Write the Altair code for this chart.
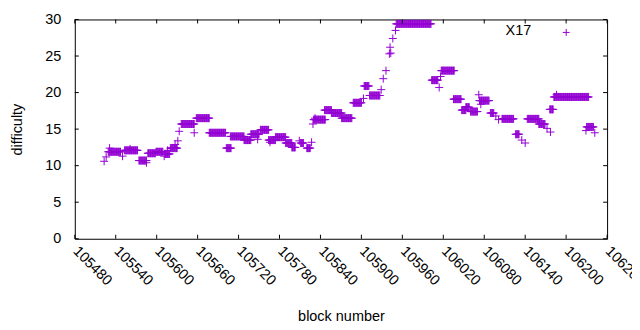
import altair as alt
import pandas as pd

# runs of (first block, last block, difficulty)
run_start = [105523, 105526, 105529, 105531, 105550, 105553, 105561, 105574, 105585, 105587, 105599,
             105611, 105612, 105616, 105620, 105627, 105631, 105633, 105636, 105655, 105658,
             105677, 105702, 105708, 105728, 105738, 105748, 105752, 105764, 105766, 105774,
             105789, 105798, 105809, 105811, 105820, 105827, 105829, 105830, 105832, 105846,
             105856, 105871, 105888, 105903, 105904, 105912, 105929, 105932, 105936, 105941,
             105942, 105943, 105946, 105950, 105951, 106003, 106014, 106016, 106017, 106035,
             106047, 106053, 106060, 106072, 106073, 106075, 106089, 106097, 106101, 106106,
             106126, 106135, 106140, 106143, 106160, 106172, 106177, 106176, 106186, 106182,
             106229, 106230, 106242]
run_end = [105523, 105526, 105547, 105531, 105550, 105572, 105561, 105585, 105585, 105598, 105609,
           105611, 105619, 105616, 105630, 105627, 105631, 105633, 105655, 105655, 105677,
           105701, 105709, 105728, 105738, 105750, 105748, 105764, 105774, 105766, 105789,
           105798, 105803, 105809, 105815, 105825, 105827, 105829, 105847, 105832, 105856,
           105871, 105886, 105900, 105903, 105911, 105927, 105929, 105932, 105936, 105941,
           105942, 105943, 105946, 105950, 106002, 106012, 106014, 106016, 106036, 106046,
           106053, 106058, 106070, 106072, 106087, 106075, 106094, 106097, 106101, 106123,
           106131, 106135, 106140, 106160, 106169, 106172, 106177, 106181, 106186, 106233,
           106229, 106240, 106242]
run_diff = [10.6, 11.2, 11.9, 12.4, 11.3, 12.1, 12.3, 10.7, 10.4, 11.7, 11.9,
            11.3, 11.6, 12.1, 12.4, 12.9, 13.4, 14.7, 15.7, 14.5, 16.5,
            14.5, 12.4, 14.0, 13.5, 14.3, 13.6, 14.9, 13.5, 13.2, 13.9,
            13.1, 12.5, 13.4, 13.1, 12.4, 13.2, 15.7, 16.3, 16.5, 17.6,
            17.2, 16.5, 18.6, 19.2, 20.9, 19.6, 20.4, 21.9, 23.0, 25.3,
            26.2, 25.4, 27.4, 28.5, 29.4, 21.7, 20.7, 22.2, 23.0, 19.1,
            17.6, 18.0, 17.4, 19.7, 18.9, 18.4, 17.2, 16.8, 16.3, 16.4,
            14.3, 13.5, 13.1, 16.4, 15.7, 15.1, 14.6, 17.7, 19.7, 19.4,
            14.8, 15.3, 14.5]

x_ticks = list(range(105480, 106261, 60))
y_ticks = [0, 5, 10, 15, 20, 25, 30]
series_name = "X17"

blocks, diffs = [], []
for s, e, d in zip(run_start, run_end, run_diff):
    for b in range(s, e + 1):
        blocks.append(b)
        diffs.append(d)
df = pd.DataFrame({"block": blocks, "difficulty": diffs})
xt = pd.DataFrame({"block": x_ticks})
yt = pd.DataFrame({"difficulty": y_ticks})
leg = pd.DataFrame({"name": [series_name]})

W, H = 534, 220
PURPLE = "#9400D3"
FONT = "Liberation Sans"
PLUS = "M-1,0L1,0M0,-1L0,1"
TK = 4
FS = 14.5

xscale = alt.Scale(domain=[105480, 106260], nice=False, zero=False)
yscale = alt.Scale(domain=[0, 30], nice=False)

xaxis = alt.Axis(
    values=x_ticks, tickCount=len(x_ticks), title="block number", ticks=False, domain=False,
    grid=False, labelAngle=45, labelAlign="left", labelBaseline="middle", labelPadding=10,
    labelFont=FONT, labelFontSize=FS, labelColor="black", labelFlush=False,
    labelOverlap=False, format="d",
    titleFont=FONT, titleFontSize=FS, titleFontWeight="normal", titleColor="black",
    titlePadding=22)
yaxis = alt.Axis(
    values=y_ticks, tickCount=len(y_ticks), title="difficulty", ticks=False, domain=False,
    grid=False, labelPadding=14, labelFont=FONT, labelFontSize=FS, labelColor="black",
    labelOverlap=False, labelFlush=False, format="d",
    titleFont=FONT, titleFontSize=FS, titleFontWeight="normal", titleColor="black",
    titlePadding=20)

points = alt.Chart(df).mark_point(
    shape=PLUS, filled=False, color=PURPLE, size=64, strokeWidth=1, opacity=1
).encode(
    x=alt.X("block:Q", scale=xscale, axis=xaxis),
    y=alt.Y("difficulty:Q", scale=yscale, axis=yaxis),
)

xb = alt.Chart(xt).mark_rule(color="black", strokeWidth=1).encode(
    x=alt.X("block:Q", scale=xscale, axis=xaxis), y=alt.value(H), y2=alt.value(H - TK))
xtop = alt.Chart(xt).mark_rule(color="black", strokeWidth=1).encode(
    x=alt.X("block:Q", scale=xscale, axis=xaxis), y=alt.value(0), y2=alt.value(TK))
yl = alt.Chart(yt).mark_rule(color="black", strokeWidth=1).encode(
    y=alt.Y("difficulty:Q", scale=yscale, axis=yaxis), x=alt.value(0), x2=alt.value(TK))
yr = alt.Chart(yt).mark_rule(color="black", strokeWidth=1).encode(
    y=alt.Y("difficulty:Q", scale=yscale, axis=yaxis), x=alt.value(W), x2=alt.value(W - TK))

leg_text = alt.Chart(leg).mark_text(
    align="right", baseline="middle", font=FONT, fontSize=FS, color="black"
).encode(text="name:N", x=alt.value(458), y=alt.value(12))
leg_pt = alt.Chart(leg).mark_point(
    shape=PLUS, filled=False, color=PURPLE, size=49, strokeWidth=1, opacity=1
).encode(x=alt.value(493), y=alt.value(13))

chart = alt.layer(points, xb, xtop, yl, yr, leg_text, leg_pt).properties(
    width=W, height=H,
    autosize=alt.AutoSizeParams(type="none"),
    padding={"left": 67, "top": 11, "right": 25, "bottom": 85},
).configure_view(stroke="black", strokeWidth=1).configure_axis(grid=False)

chart.save("out.html", embed_options={"renderer": "svg", "actions": False})
